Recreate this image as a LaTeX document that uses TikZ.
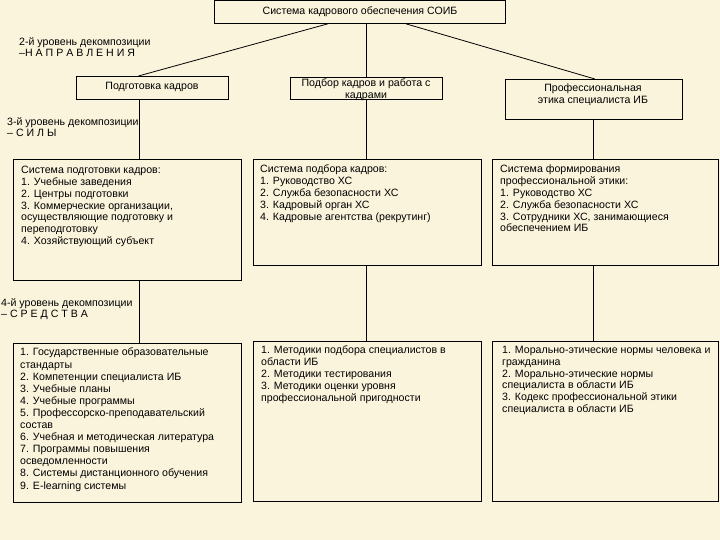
\documentclass[tikz,border=0pt]{standalone}
\usepackage{fontspec}
\setmainfont{Liberation Sans}
\usetikzlibrary{calc}
\definecolor{bgcream}{RGB}{251,244,220}
\begin{document}
\begin{tikzpicture}[x=1pt,y=-1pt,
  every node/.style={font=\fontsize{10.6}{11.8}\selectfont},
  boxnode/.style={draw=black,line width=0.8pt,inner sep=0pt,anchor=north west},
  txt/.style={inner sep=0pt,anchor=north west,align=left},
  conn/.style={draw=black,line width=0.8pt}]
\fill[bgcream] (0,0) rectangle (720,540);
\useasboundingbox (0,0) rectangle (720,540);
% level 1
\node[boxnode,minimum width=291pt,minimum height=23pt] (top) at (214,0) {};
\node[inner sep=0pt] (toptxt) at (360,11.5) {Система кадрового обеспечения СОИБ};
% level 2
\node[boxnode,minimum width=152pt,minimum height=23pt] (p1) at (76,76) {};
\node[inner sep=0pt] at (152,87) {Подготовка кадров};
\node[boxnode,minimum width=152pt,minimum height=22pt] (p2) at (290,77) {};
\node[inner sep=0pt,align=center] at (366,90) {Подбор кадров и работа с\\кадрами};
\node[boxnode,minimum width=177pt,minimum height=40pt] (p3) at (505,79) {};
\node[inner sep=0pt,align=center] at (593,95) {Профессиональная\\этика специалиста ИБ};
% level 3
\node[boxnode,minimum width=228pt,minimum height=121pt] (s1) at (13,159) {};
\node[boxnode,minimum width=228pt,minimum height=106pt] (s2) at (253,159) {};
\node[boxnode,minimum width=226pt,minimum height=106pt] (s3) at (492,159) {};
\node[txt] at (21,166) {Система подготовки кадров:\\1. Учебные заведения\\2. Центры подготовки\\3. Коммерческие организации,\\осуществляющие подготовку и\\переподготовку\\4. Хозяйствующий субъект};
\node[txt] at (260,165) {Система подбора кадров:\\1. Руководство ХС\\2. Служба безопасности ХС\\3. Кадровый орган ХС\\4. Кадровые агентства (рекрутинг)};
\node[txt] at (500,165) {Система формирования\\профессиональной этики:\\1. Руководство ХС\\2. Служба безопасности ХС\\3. Сотрудники ХС, занимающиеся\\обеспечением ИБ};
% level 4
\node[boxnode,minimum width=228pt,minimum height=159pt] (m1) at (13,343) {};
\node[boxnode,minimum width=228pt,minimum height=160pt] (m2) at (253,341) {};
\node[boxnode,minimum width=226pt,minimum height=160pt] (m3) at (492,341) {};
\node[txt,font=\fontsize{10.6}{12.1}\selectfont] at (20,348) {1. Государственные образовательные\\стандарты\\2. Компетенции специалиста ИБ\\3. Учебные планы\\4. Учебные программы\\5. Профессорско-преподавательский\\состав\\6. Учебная и методическая литература\\7. Программы повышения\\осведомленности\\8. Системы дистанционного обучения\\9. E-learning системы};
\node[txt] at (261,346) {1. Методики подбора специалистов в\\области ИБ\\2. Методики тестирования\\3. Методики оценки уровня\\профессиональной пригодности};
\node[txt] at (502,346) {1. Морально-этические нормы человека и\\гражданина\\2. Морально-этические нормы\\специалиста в области ИБ\\3. Кодекс профессиональной этики\\специалиста в области ИБ};
% level labels
\node[txt] (l2) at (19,37) {2-й уровень декомпозиции\\–Н А П Р А В Л Е Н И Я};
\node[txt] (l3) at (7,117) {3-й уровень декомпозиции\\– С И Л Ы};
\node[txt] (l4) at (1,298) {4-й уровень декомпозиции\\– С Р Е Д С Т В А};
% connectors
\coordinate (x1) at (139,0);
\coordinate (x2) at (366,0);
\coordinate (x3) at (593,0);
\draw[conn] ($(top.south)+(-32,0)$) -- ($(p1.north)+(-14,0)$);
\draw[conn] (top.south -| x2) -- (p2.north -| x2);
\draw[conn] ($(top.south)+(46,0)$) -- ($(p3.north)+(1,0)$);
\draw[conn] (p1.south -| x1) -- (s1.north -| x1);
\draw[conn] (p2.south -| x2) -- (s2.north -| x2);
\draw[conn] (p3.south -| x3) -- (s3.north -| x3);
\draw[conn] (s1.south -| x1) -- (m1.north -| x1);
\draw[conn] (s2.south -| x2) -- (m2.north -| x2);
\draw[conn] (s3.south -| x3) -- (m3.north -| x3);
\end{tikzpicture}
\end{document}
